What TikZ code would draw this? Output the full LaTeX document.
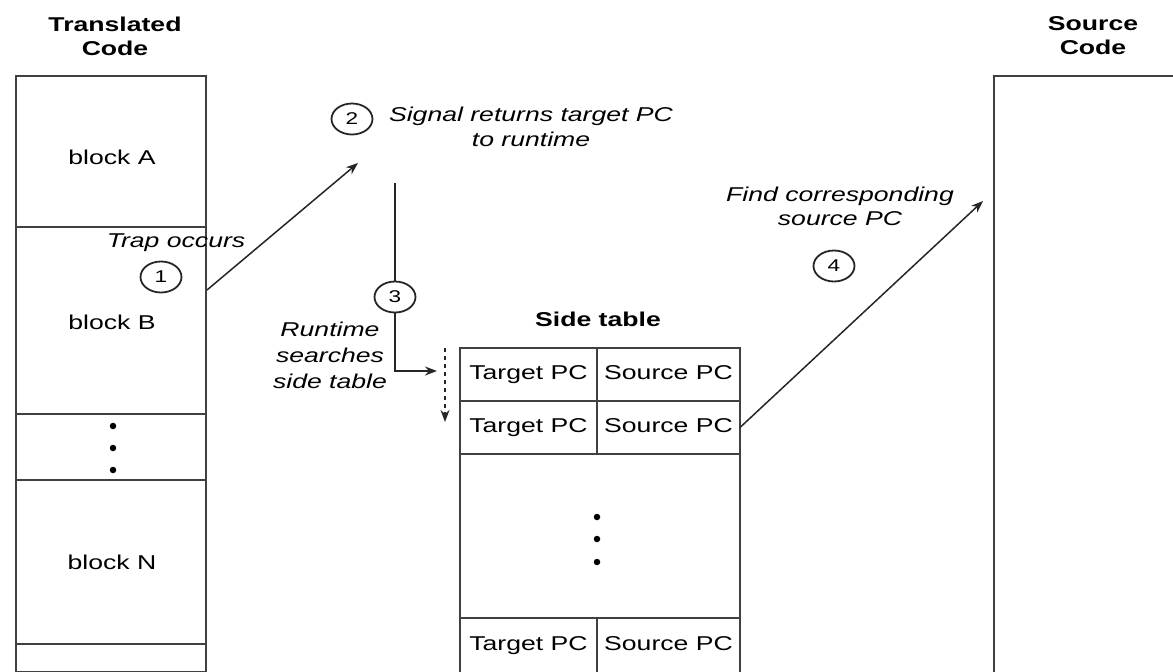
\documentclass[tikz,border=0pt]{standalone}
\usepackage{fontspec}
\setmainfont{Liberation Sans}[FakeStretch=1.33]
\usetikzlibrary{shapes.geometric,arrows.meta}
\begin{document}
\begin{tikzpicture}[x=1pt,y=-1pt,
  box/.style={draw=black!75, line width=2.8pt, inner sep=0pt, outer sep=0pt, minimum width=190pt},
  cell/.style={draw=black!75, line width=2pt, inner sep=0pt, outer sep=0pt, minimum height=53pt, text height=15pt, text depth=5pt, font=\fontsize{20}{24}\selectfont},
  txt/.style={font=\fontsize{20}{24}\selectfont, inner sep=0pt},
  num/.style={ellipse, draw=black!85, line width=1.8pt, minimum width=41pt, minimum height=31pt, inner sep=0pt, font=\fontsize{17}{18}\selectfont},
  lbl/.style={font=\fontsize{20}{25}\selectfont\itshape, align=center, inner sep=0pt},
  ttl/.style={font=\fontsize{20}{24}\selectfont\bfseries, align=center, inner sep=0pt},
  conn/.style={line width=1.5pt, draw=black!85},
  arr/.style={conn, -{Stealth[length=12pt,width=9pt]}},
  dotmark/.style={circle, fill=black, inner sep=0pt, minimum size=6.5pt}
]
\useasboundingbox (0,0) rectangle (1173,672);

% Translated code
\node[ttl] (tctitle) at (115,36) {Translated\\Code};
\node[box, minimum height=151pt] (bA) at (111,151.5) {};
\node[box, minimum height=187pt] (bB) at (111,320.5) {};
\node[box, minimum height=66pt] (bDots) at (111,447) {};
\node[box, minimum height=164pt] (bN) at (111,562) {};
\node[box, minimum height=28pt] (bLast) at (111,658) {};
\node[txt] (tA) at (112,157) {block A};
\node[txt] (tB) at (112,322) {block B};
\node[txt] (tN) at (112,562) {block N};
\node[dotmark] (td1) at (113,426) {};
\node[dotmark] (td2) at (113,448) {};
\node[dotmark] (td3) at (113,470) {};

% Source code
\node[ttl] (sctitle) at (1093,36) {Source\\Code};
\node[box, minimum width=200pt, minimum height=620pt, anchor=north west] (src) at (994,76) {};

% Side table
\node[ttl] (sttitle) at (598,319) {Side table};
\node[cell, minimum width=137pt] (r1a) at (528.5,374.5) {Target PC};
\node[cell, minimum width=143pt] (r1b) at (668.5,374.5) {Source PC};
\node[cell, minimum width=137pt] (r2a) at (528.5,427.5) {Target PC};
\node[cell, minimum width=143pt] (r2b) at (668.5,427.5) {Source PC};
\node[cell, minimum width=280pt, minimum height=164pt] (rmid) at (600,536) {};
\node[cell, minimum width=137pt, minimum height=57pt] (r3a) at (528.5,646.5) {};
\node[cell, minimum width=143pt, minimum height=57pt] (r3b) at (668.5,646.5) {};
\node[cell, draw=none, minimum width=137pt] (t3a) at (528.5,645) {Target PC};
\node[cell, draw=none, minimum width=143pt] (t3b) at (668.5,645) {Source PC};
\node[dotmark] (sd1) at (597,517) {};
\node[dotmark] (sd2) at (597,539) {};
\node[dotmark] (sd3) at (597,562) {};

% Step circles and labels
\node[num] (c1) at (161,277) {1};
\node[num] (c2) at (352,119) {2};
\node[num] (c3) at (395,297) {3};
\node[num] (c4) at (834,266) {4};
\node[lbl] (trap) at (176,243) {Trap occurs};
\node[lbl] (sig) at (531,127) {Signal returns target PC\\to runtime};
\node[lbl, font=\fontsize{20}{26}\selectfont\itshape] (rts) at (330,355) {Runtime\\searches\\side table};
\node[lbl, font=\fontsize{20}{24}\selectfont\itshape] (find) at (840,206) {Find corresponding\\source PC};

% Connectors
\coordinate (trapstart) at (207,290);
\coordinate (trapend) at (358,163);
\draw[arr] (trapstart) -- (trapend);

\coordinate (s3top) at (395,183);
\coordinate (s3turn) at (395,371);
\coordinate (s3end) at (437,371);
\draw[conn] (s3top) -- (c3.north);
\draw[arr] (c3.south) -- (s3turn) -- (s3end);

\coordinate (dtop) at (445,348);
\coordinate (dbot) at (445,422);
\draw[arr, dash pattern=on 4pt off 4pt] (dtop) -- (dbot);

\coordinate (srcpt) at (983,201);
\draw[arr] (r2b.east) -- (srcpt);
\end{tikzpicture}
\end{document}
